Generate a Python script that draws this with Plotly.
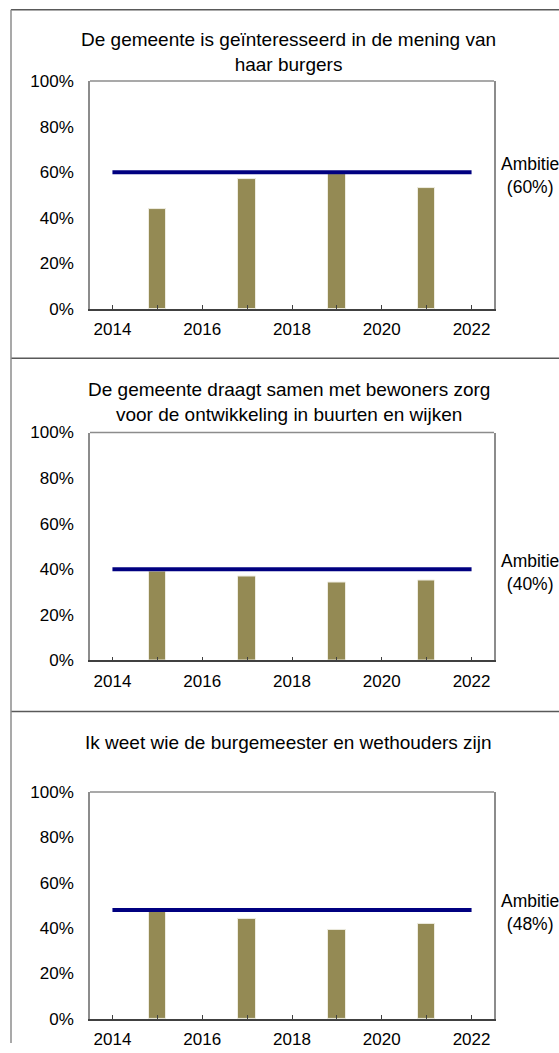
import plotly.graph_objects as go

# data
years = [2015, 2017, 2019, 2021]
titles = [
    "De gemeente is geïnteresseerd in de mening van<br>haar burgers",
    "De gemeente draagt samen met bewoners zorg<br>voor de ontwikkeling in buurten en wijken",
    "Ik weet wie de burgemeester en wethouders zijn",
]
scores_1 = [44, 57, 59, 53]
scores_2 = [39, 37, 34, 35]
scores_3 = [47, 44, 39, 42]
ambitions = [60, 40, 48]
ambition_years = [2014, 2022]

scores = [scores_1, scores_2, scores_3]

W, H = 559, 1053
FONT = "Liberation Sans, Arial, sans-serif"
BAR = "#948A54"
LINE = "#000080"

# plot boxes in pixels (top, bottom), title centres and panel separators
boxes = [(73.4, 305.5), (431.3, 663.4), (797.3, 1028.4)]
title_y = [43.8, 400.6, 747.2]
panel_tops = [0.8, 355.6, 715.5]
x_left, x_right = 90, 494

fig = go.Figure()

for i in range(3):
    n = "" if i == 0 else str(i + 1)
    top, bot = boxes[i]
    fig.add_trace(go.Bar(
        x=years, y=scores[i], width=0.39,
        marker=dict(color=BAR, line=dict(color="#EEECE1", width=1)),
        xaxis="x" + n, yaxis="y" + n, showlegend=False,
    ))
    fig.add_trace(go.Scatter(
        x=ambition_years, y=[ambitions[i]] * 2, mode="lines",
        line=dict(color=LINE, width=4),
        xaxis="x" + n, yaxis="y" + n, showlegend=False,
    ))
    fig.update_layout(**{
        "xaxis" + n: dict(
            domain=[x_left / W, x_right / W], anchor="y" + n,
            range=[2013.5, 2022.5], tick0=2014, dtick=2,
            ticks="inside", ticklen=4, tickcolor="#404040",
            minor=dict(dtick=1, ticks="inside", ticklen=4, tickcolor="#404040"),
            showline=True, linecolor="#404040", linewidth=1.5,
            showgrid=False, zeroline=False, ticklabelstandoff=4,
        ),
        "yaxis" + n: dict(
            domain=[1 - bot / H, 1 - top / H], anchor="x" + n,
            range=[0, 100], dtick=20, ticksuffix="%",
            showline=True, linecolor="#8C8C8C", linewidth=1.5, mirror=True,
            showgrid=False, zeroline=False, ticklabelstandoff=11,
        ),
    })
    # top edge of the plot box
    fig.add_shape(type="line", xref="x" + n + " domain", yref="y" + n + " domain",
                  x0=0, x1=1, y0=1, y1=1, line=dict(color="#8C8C8C", width=1.5))
    # panel title
    fig.add_annotation(text=titles[i], xref="paper", yref="paper",
                       x=289 / W, y=1 - title_y[i] / H, showarrow=False,
                       xanchor="center", yanchor="middle", align="center",
                       font=dict(size=19))
    # ambition label
    fig.add_annotation(text="Ambitie<br>(%d%%)" % ambitions[i],
                       xref="paper", yref="y" + n, x=499 / W, y=ambitions[i],
                       showarrow=False, xanchor="left", yanchor="middle",
                       align="center", yshift=-3, font=dict(size=17.5))
    # panel separator
    fig.add_shape(type="line", xref="paper", yref="paper",
                  x0=11 / W, x1=1, y0=1 - panel_tops[i] / H, y1=1 - panel_tops[i] / H,
                  line=dict(color="#595959", width=1.5))

# outer left border
fig.add_shape(type="line", xref="paper", yref="paper",
              x0=11 / W, x1=11 / W, y0=0, y1=1 - panel_tops[0] / H,
              line=dict(color="#8C8C8C", width=1.5))

fig.update_layout(
    width=W, height=H, margin=dict(l=0, r=0, t=0, b=0),
    paper_bgcolor="white", plot_bgcolor="white",
    font=dict(family=FONT, size=17, color="black"),
    bargap=0,
)

fig.write_html("out.html", config={"displayModeBar": False},
               post_script="document.body.style.margin='0';")
